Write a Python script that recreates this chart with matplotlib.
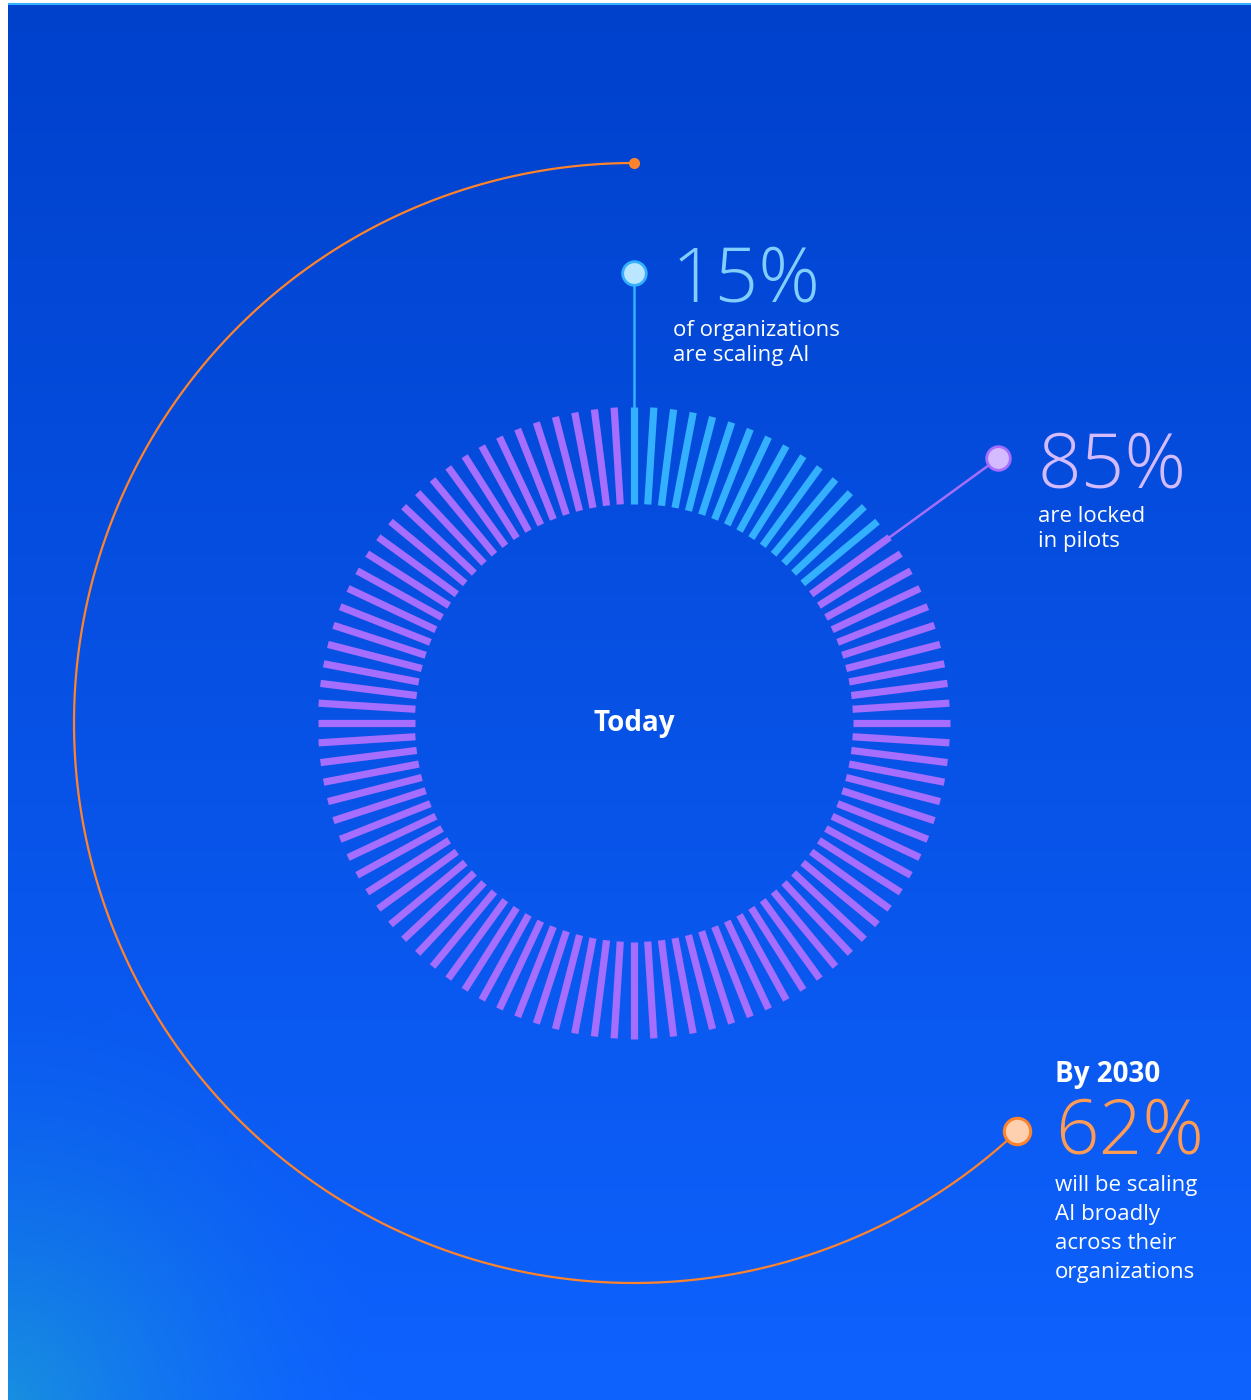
import numpy as np
import matplotlib
matplotlib.use("Agg")
from matplotlib import pyplot as plt
from matplotlib import font_manager as fm
from matplotlib.collections import LineCollection

# Data
n_ticks = 100
scaling_today = 15          # % scaling AI today
pilots_today = 85           # % locked in pilots
scaling_2030 = 62           # % scaling by 2030
labels_today = ["of organizations\nare scaling AI", "are locked\nin pilots"]
label_2030 = "will be scaling\nAI broadly\nacross their\norganizations"

W, H = 1251, 1400
cx, cy = 634, 723
r_in, r_out = 219, 316
r_label = 450
r_arc = 560

cyan, purple, orange = "#33B1FF", "#A56EFF", "#FF832B"


# pick a family that really has the weight we want
def find_font(families, weight):
    for fam in families:
        for f in fm.fontManager.ttflist:
            if f.name == fam and f.weight == weight and f.style == "normal":
                return fam
    return None

light_fam = find_font(["IBM Plex Sans", "Open Sans", "Roboto", "Noto Sans", "Inter", "Lato"], 300)
big_weight = 300 if light_fam else "normal"
light_fam = light_fam or "Lato"
body_fam = find_font(["IBM Plex Sans", "Open Sans", "Noto Sans", "Roboto", "Inter"], 700) or "DejaVu Sans"

fig = plt.figure(figsize=(W / 100, H / 100), dpi=100)
fig.patch.set_facecolor("white")
ax = fig.add_axes([0, 0, 1, 1])
ax.set_xlim(0, W)
ax.set_ylim(H, 0)
ax.axis("off")

# Background gradient
yy, xx = np.mgrid[0:H, 0:W]
t = (yy / H)[..., None]
top = np.array([0, 65, 204]) / 255
bot = np.array([14, 98, 254]) / 255
bg = top * (1 - t) + bot * t
d = np.hypot(xx / W, (H - yy) / H)[..., None]
glow = np.clip(1 - d / 0.3, 0, 1) ** 1.5
bg = bg + glow * (np.array([10, 45, -30]) / 255)
ax.imshow(np.clip(bg, 0, 1), extent=[8, W, H, 5], zorder=0, aspect="auto")
ax.plot([8, W], [4, 4], color="#33B1FF", lw=1.5, zorder=1, solid_capstyle="butt")


def pt(a_deg, r):
    a = np.radians(a_deg)
    return cx + r * np.sin(a), cy - r * np.cos(a)


# Ring of ticks
segs, cols = [], []
for i in range(n_ticks):
    a = i * 360 / n_ticks
    segs.append([pt(a, r_in), pt(a, r_out)])
    cols.append(cyan if i < scaling_today * n_ticks / 100 else purple)
ax.add_collection(LineCollection(segs, colors=cols, linewidths=5.2,
                                 capstyle="butt", zorder=3))

# Orange 2030 arc, counter-clockwise from the top
a_end = -scaling_2030 / 100 * 360
th = np.linspace(0, a_end, 400)
ax.plot(*pt(th, r_arc), color=orange, lw=1.6, zorder=2)
ax.plot(*pt(0, r_arc), "o", ms=7, color=orange, mec=orange, zorder=4)

# Connectors and dots
a_pil = scaling_today / 100 * 360
ax.plot(*zip(pt(0, r_out), pt(0, r_label)), color=cyan, lw=1.8, zorder=2)
ax.plot(*zip(pt(a_pil, r_out), pt(a_pil, r_label)), color=purple, lw=1.8, zorder=2)
ax.plot(*pt(0, r_label), "o", ms=17, mfc="#BAE6FF", mec=cyan, mew=2, zorder=5)
ax.plot(*pt(a_pil, r_label), "o", ms=17, mfc="#D4BBFF", mec=purple, mew=2, zorder=5)
ax.plot(*pt(a_end, r_arc), "o", ms=19, mfc="#FFD0B0", mec=orange, mew=2.2, zorder=5)

body = [body_fam, "DejaVu Sans"]
big = dict(family=[light_fam, "DejaVu Sans"], fontweight=big_weight, fontsize=55, va="baseline")
txt = dict(color="white", fontsize=16, family=body)

ax.text(cx, cy, "Today", color="white", fontsize=20, fontweight="bold",
        family=body, ha="center", va="center", zorder=6)

ax.text(672, 302, f"{scaling_today}%", color="#82CFFF", **big)
for k, line in enumerate(labels_today[0].split("\n")):
    ax.text(673, 336 + 25 * k, line, **txt)

ax.text(1038, 488, f"{pilots_today}%", color="#D4BBFF", **big)
for k, line in enumerate(labels_today[1].split("\n")):
    ax.text(1038, 522 + 25 * k, line, **txt)

ax.text(1055, 1082, "By 2030", color="white", fontsize=20, fontweight="bold", family=body)
ax.text(1055, 1154, f"{scaling_2030}%", color="#FF9B52", **big)
for k, line in enumerate(label_2030.split("\n")):
    ax.text(1055, 1191 + 29 * k, line, **txt)

fig.savefig("out.png", dpi=100, facecolor=fig.get_facecolor())
